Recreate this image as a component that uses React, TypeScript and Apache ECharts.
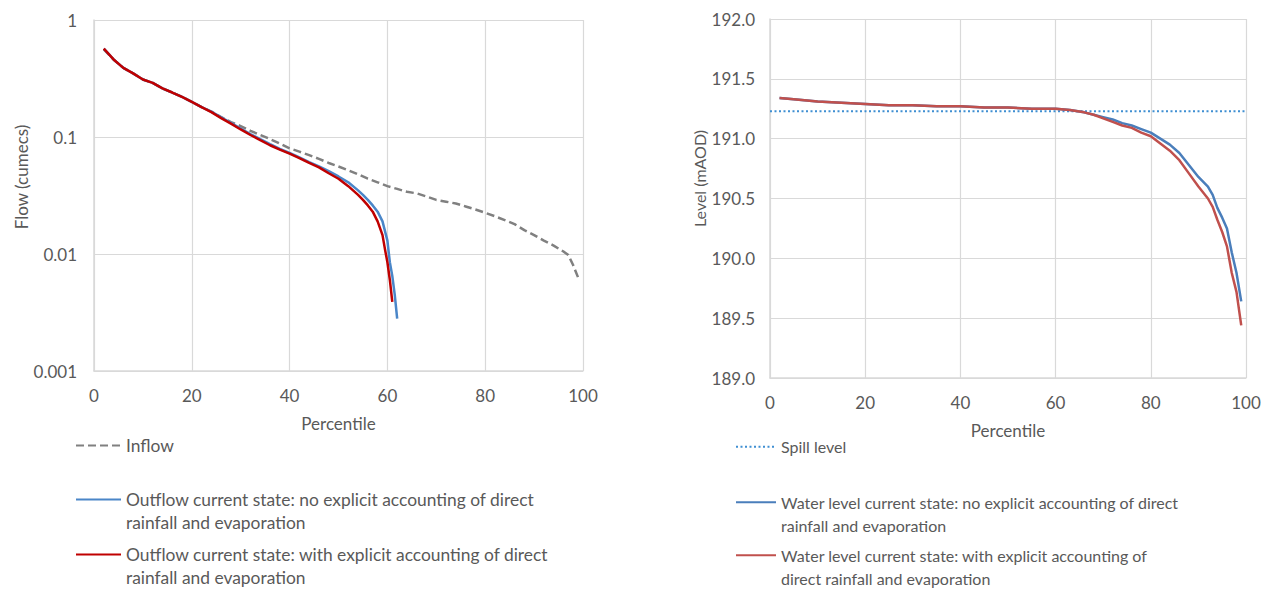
import React, { useEffect, useRef } from "react";
import * as echarts from "echarts";

// ---- Left chart: flow duration (log scale) ----
const inflowPct = [2, 4, 6, 8, 10, 12, 14, 16, 18, 20, 22, 24, 26, 28, 30, 32, 34, 36, 38, 40, 42, 44, 46, 48, 50, 52, 54, 56, 58, 60, 62, 64, 66, 68, 70, 72, 74, 76, 78, 80, 82, 84, 86, 88, 90, 92, 94, 96, 97, 98, 99];
const inflowVal = [0.56, 0.46, 0.39, 0.35, 0.31, 0.29, 0.26, 0.24, 0.22, 0.2, 0.18, 0.165, 0.148, 0.134, 0.124, 0.113, 0.104, 0.096, 0.088, 0.08, 0.075, 0.07, 0.065, 0.06, 0.056, 0.052, 0.048, 0.044, 0.041, 0.038, 0.036, 0.034, 0.033, 0.031, 0.029, 0.028, 0.027, 0.0255, 0.024, 0.0225, 0.021, 0.0195, 0.018, 0.016, 0.0145, 0.013, 0.0118, 0.0105, 0.0098, 0.008, 0.0063];

const outNoPct = [2, 4, 6, 8, 10, 12, 14, 16, 18, 20, 22, 24, 26, 28, 30, 32, 34, 36, 38, 40, 42, 44, 46, 48, 50, 52, 54, 55, 56, 57, 58, 59, 60, 60.5, 61, 61.5, 62];
const outNoVal = [0.57, 0.46, 0.39, 0.35, 0.31, 0.29, 0.26, 0.24, 0.22, 0.2, 0.18, 0.165, 0.147, 0.132, 0.118, 0.106, 0.096, 0.087, 0.079, 0.073, 0.067, 0.061, 0.056, 0.051, 0.046, 0.041, 0.035, 0.032, 0.029, 0.026, 0.023, 0.019, 0.013, 0.0085, 0.0065, 0.0045, 0.0028];

const outWithPct = [2, 4, 6, 8, 10, 12, 14, 16, 18, 20, 22, 24, 26, 28, 30, 32, 34, 36, 38, 40, 42, 44, 46, 48, 50, 52, 54, 55, 56, 57, 58, 59, 59.5, 60, 60.5, 61];
const outWithVal = [0.57, 0.46, 0.39, 0.35, 0.31, 0.29, 0.26, 0.24, 0.22, 0.2, 0.18, 0.163, 0.145, 0.13, 0.116, 0.104, 0.094, 0.085, 0.078, 0.072, 0.066, 0.06, 0.055, 0.049, 0.044, 0.038, 0.032, 0.029, 0.026, 0.023, 0.019, 0.0145, 0.011, 0.0085, 0.006, 0.0039];

const flowTicks = ["0.001", "0.01", "0.1", "1"];

// ---- Right chart: water level ----
const levelNoPct = [2, 5, 10, 15, 20, 25, 30, 35, 40, 45, 50, 55, 60, 63, 66, 68, 70, 72, 74, 76, 78, 80, 82, 84, 86, 88, 90, 92, 93, 94, 95, 96, 97, 98, 99];
const levelNoVal = [191.34, 191.33, 191.31, 191.3, 191.29, 191.28, 191.28, 191.27, 191.27, 191.26, 191.26, 191.25, 191.25, 191.24, 191.22, 191.2, 191.18, 191.16, 191.13, 191.11, 191.08, 191.05, 191.0, 190.95, 190.88, 190.78, 190.68, 190.6, 190.53, 190.42, 190.34, 190.25, 190.05, 189.88, 189.64];

const levelWithPct = [2, 5, 10, 15, 20, 25, 30, 35, 40, 45, 50, 55, 60, 63, 66, 68, 70, 72, 74, 76, 78, 80, 82, 84, 86, 88, 90, 92, 93, 94, 95, 96, 97, 98, 99];
const levelWithVal = [191.34, 191.33, 191.31, 191.3, 191.29, 191.28, 191.28, 191.27, 191.27, 191.26, 191.26, 191.25, 191.25, 191.24, 191.22, 191.2, 191.17, 191.14, 191.11, 191.09, 191.05, 191.02, 190.96, 190.9, 190.82, 190.71, 190.6, 190.5, 190.43, 190.32, 190.22, 190.1, 189.88, 189.72, 189.44];

const spillPct = [0, 100];
const spillVal = [191.23, 191.23];

const names = {
  inflow: "Inflow",
  outNo: "Outflow current state: no explicit accounting of direct\nrainfall and evaporation",
  outWith: "Outflow current state: with explicit accounting of direct\nrainfall and evaporation",
  spill: "Spill level",
  levelNo: "Water level current state: no explicit accounting of direct\nrainfall and evaporation",
  levelWith: "Water level current state: with explicit accounting of\ndirect rainfall and evaporation",
};

const zip = (xs: number[], ys: number[]) => xs.map((x, i) => [x, ys[i]]);

const TXT = "#595959";
const GRID = "#d9d9d9";
const FONT = "Lato";
const FS = 17;

export default function App() {
  const ref = useRef<HTMLDivElement>(null);
  useEffect(() => {
    if (!ref.current) return;
    const chart = echarts.init(ref.current, undefined, { renderer: "svg" });
    const axisCommon = {
      axisLine: { show: true, lineStyle: { color: GRID, width: 1.5 } },
      axisTick: { show: false },
      splitLine: { show: true, lineStyle: { color: GRID, width: 1.2 } },
      axisLabel: { color: TXT, fontSize: FS, fontFamily: FONT },
      nameTextStyle: { color: TXT, fontSize: FS, fontFamily: FONT },
    };
    const legendCommon = {
      orient: "vertical",
      padding: 0,
      itemHeight: 12,
      selectedMode: false,
      itemStyle: { opacity: 0 },
      formatter: (n: string) => (n.indexOf("\n") >= 0 ? "\n" + n : n),
    };
    const leftLegendText = { color: TXT, fontSize: 17.4, fontFamily: FONT, lineHeight: 23 };
    const rightLegendText = { color: TXT, fontSize: 16, fontFamily: FONT, lineHeight: 23.5 };
    chart.setOption({
      animation: false,
      textStyle: { fontFamily: FONT },
      grid: [
        { left: 94, top: 20, width: 489, height: 351 },
        { left: 770, top: 19, width: 476, height: 359 },
      ],
      xAxis: [
        {
          ...axisCommon,
          gridIndex: 0,
          type: "value",
          min: 0,
          max: 100,
          interval: 20,
          name: "Percentile",
          nameLocation: "middle",
          nameGap: 44,
          axisLabel: { ...axisCommon.axisLabel, margin: 16 },
        },
        {
          ...axisCommon,
          gridIndex: 1,
          type: "value",
          min: 0,
          max: 100,
          interval: 20,
          name: "Percentile",
          nameLocation: "middle",
          nameGap: 44,
          axisLabel: { ...axisCommon.axisLabel, margin: 16 },
        },
      ],
      yAxis: [
        {
          ...axisCommon,
          gridIndex: 0,
          type: "log",
          logBase: 10,
          min: 0.001,
          max: 1,
          name: "Flow (cumecs)",
          nameLocation: "middle",
          nameGap: 64,
          nameTextStyle: { ...axisCommon.nameTextStyle, fontSize: 17, padding: [0, 0, 0, 37] },
          axisLabel: {
            ...axisCommon.axisLabel,
            margin: 17,
            formatter: (v: number) => {
              const idx = Math.round(Math.log10(v)) + 3;
              return flowTicks[idx] ?? "";
            },
          },
        },
        {
          ...axisCommon,
          gridIndex: 1,
          type: "value",
          min: 189,
          max: 192,
          interval: 0.5,
          name: "Level (mAOD)",
          nameLocation: "middle",
          nameGap: 59,
          nameTextStyle: { ...axisCommon.nameTextStyle, fontSize: 16, padding: [0, 0, 0, 40] },
          axisLabel: {
            ...axisCommon.axisLabel,
            margin: 15,
            formatter: (v: number) => v.toFixed(1),
          },
        },
      ],
      legend: [
        { ...legendCommon, left: 75, top: 434, itemWidth: 45, textStyle: leftLegendText, data: [names.inflow] },
        { ...legendCommon, left: 75, top: 465, itemWidth: 45, textStyle: leftLegendText, data: [names.outNo] },
        { ...legendCommon, left: 75, top: 520, itemWidth: 45, textStyle: leftLegendText, data: [names.outWith] },
        { ...legendCommon, left: 735, top: 435, itemWidth: 40, textStyle: rightLegendText, data: [names.spill] },
        { ...legendCommon, left: 735, top: 467, itemWidth: 40, textStyle: rightLegendText, data: [names.levelNo] },
        { ...legendCommon, left: 735, top: 520, itemWidth: 40, textStyle: rightLegendText, data: [names.levelWith] },
      ],
      series: [
        {
          name: names.inflow,
          type: "line",
          xAxisIndex: 0,
          yAxisIndex: 0,
          symbol: "none",
          data: zip(inflowPct, inflowVal),
          lineStyle: { color: "#808080", width: 2.5, type: [8, 4] },
          itemStyle: { color: "#808080" },
        },
        {
          name: names.outNo,
          type: "line",
          xAxisIndex: 0,
          yAxisIndex: 0,
          symbol: "none",
          data: zip(outNoPct, outNoVal),
          lineStyle: { color: "#4a86c8", width: 2.5 },
          itemStyle: { color: "#4a86c8" },
        },
        {
          name: names.outWith,
          type: "line",
          xAxisIndex: 0,
          yAxisIndex: 0,
          symbol: "none",
          data: zip(outWithPct, outWithVal),
          lineStyle: { color: "#c00000", width: 2.5 },
          itemStyle: { color: "#c00000" },
        },
        {
          name: names.spill,
          type: "line",
          xAxisIndex: 1,
          yAxisIndex: 1,
          symbol: "none",
          data: zip(spillPct, spillVal),
          lineStyle: { color: "#3f8fd2", width: 2, type: [2, 2.5] },
          itemStyle: { color: "#3f8fd2" },
        },
        {
          name: names.levelNo,
          type: "line",
          xAxisIndex: 1,
          yAxisIndex: 1,
          symbol: "none",
          data: zip(levelNoPct, levelNoVal),
          lineStyle: { color: "#4a7ebb", width: 2.5 },
          itemStyle: { color: "#4a7ebb" },
        },
        {
          name: names.levelWith,
          type: "line",
          xAxisIndex: 1,
          yAxisIndex: 1,
          symbol: "none",
          data: zip(levelWithPct, levelWithVal),
          lineStyle: { color: "#c0504d", width: 2.5 },
          itemStyle: { color: "#c0504d" },
        },
      ],
    });
    return () => chart.dispose();
  }, []);
  return (
    <div
      ref={ref}
      style={{ position: "absolute", left: 0, top: 0, width: 1273, height: 589, background: "#fff" }}
    />
  );
}
